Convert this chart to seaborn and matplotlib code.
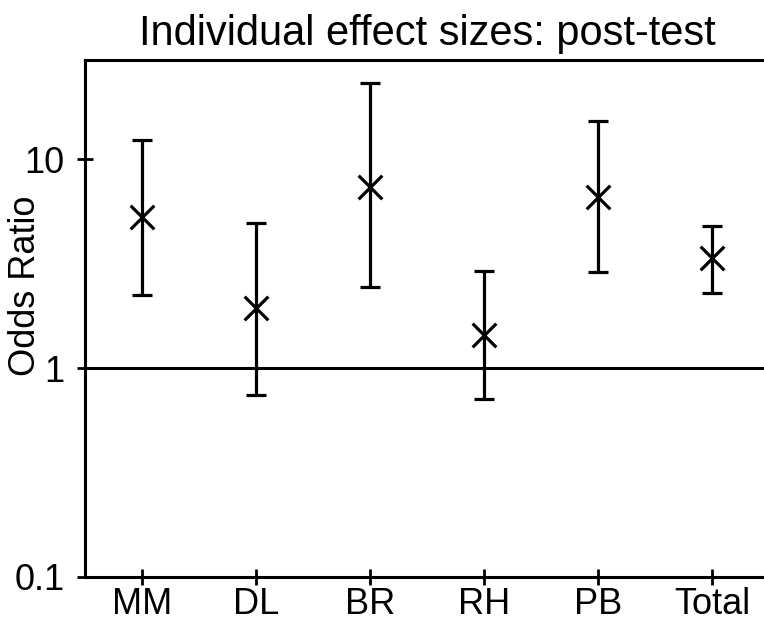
import numpy as np
import pandas as pd
import matplotlib
matplotlib.use("Agg")
import matplotlib.pyplot as plt
import seaborn as sns

categories = ["MM", "DL", "BR", "RH", "PB", "Total"]
odds_ratio = [5.28, 1.94, 7.35, 1.44, 6.58, 3.36]
ci_lower = [2.24, 0.743, 2.44, 0.71, 2.88, 2.28]
ci_upper = [12.3, 4.94, 23.1, 2.91, 15.2, 4.78]
y_ticks = [0.1, 1, 10]
y_tick_labels = ["0.1", "1", "10"]

sns.set_theme(style="ticks")
plt.rcParams["font.family"] = ["Liberation Sans", "DejaVu Sans"]

df = pd.DataFrame({"study": categories, "or": odds_ratio,
                   "lo": ci_lower, "hi": ci_upper})

fig = plt.figure(figsize=(7.64, 6.24), dpi=100)
ax = fig.add_axes([85 / 764, 47 / 624, 684 / 764, 517 / 624])

pos = np.arange(len(categories))
yerr = np.vstack([df["or"] - df["lo"], df["hi"] - df["or"]])
ax.errorbar(pos, df["or"], yerr=yerr, fmt="none", ecolor="black",
            elinewidth=2.3, capsize=7.5, capthick=2.3, zorder=2)
sns.scatterplot(data=df, x=pos, y="or", marker="x", s=290, color="black",
                linewidth=2.3, ax=ax, zorder=3, legend=False)

ax.axhline(1, color="black", linewidth=2.2, zorder=1)
ax.set_yscale("log")
ax.set_ylim(0.1, 29.8)
ax.set_xlim(-0.5, len(categories) - 0.5)
ax.set_yticks(y_ticks)
ax.set_yticklabels(y_tick_labels)
ax.minorticks_off()
ax.set_xticks(pos)
ax.set_xticklabels(categories)

ax.tick_params(axis="both", direction="inout", width=2, color="black",
               labelsize=26, labelcolor="black")
ax.tick_params(axis="x", length=11, pad=2)
ax.tick_params(axis="y", length=11.5, pad=9)

for side in ["left", "bottom", "top"]:
    ax.spines[side].set_linewidth(2.2)
    ax.spines[side].set_color("black")
ax.spines["right"].set_visible(False)

ax.set_xlabel("")
ax.set_ylabel("Odds Ratio", fontsize=26, color="black")
ax.yaxis.set_label_coords(-0.062, 0.563)
ax.set_title("Individual effect sizes: post-test", fontsize=30, pad=11,
             color="black")

fig.savefig("out.png", dpi=100)
